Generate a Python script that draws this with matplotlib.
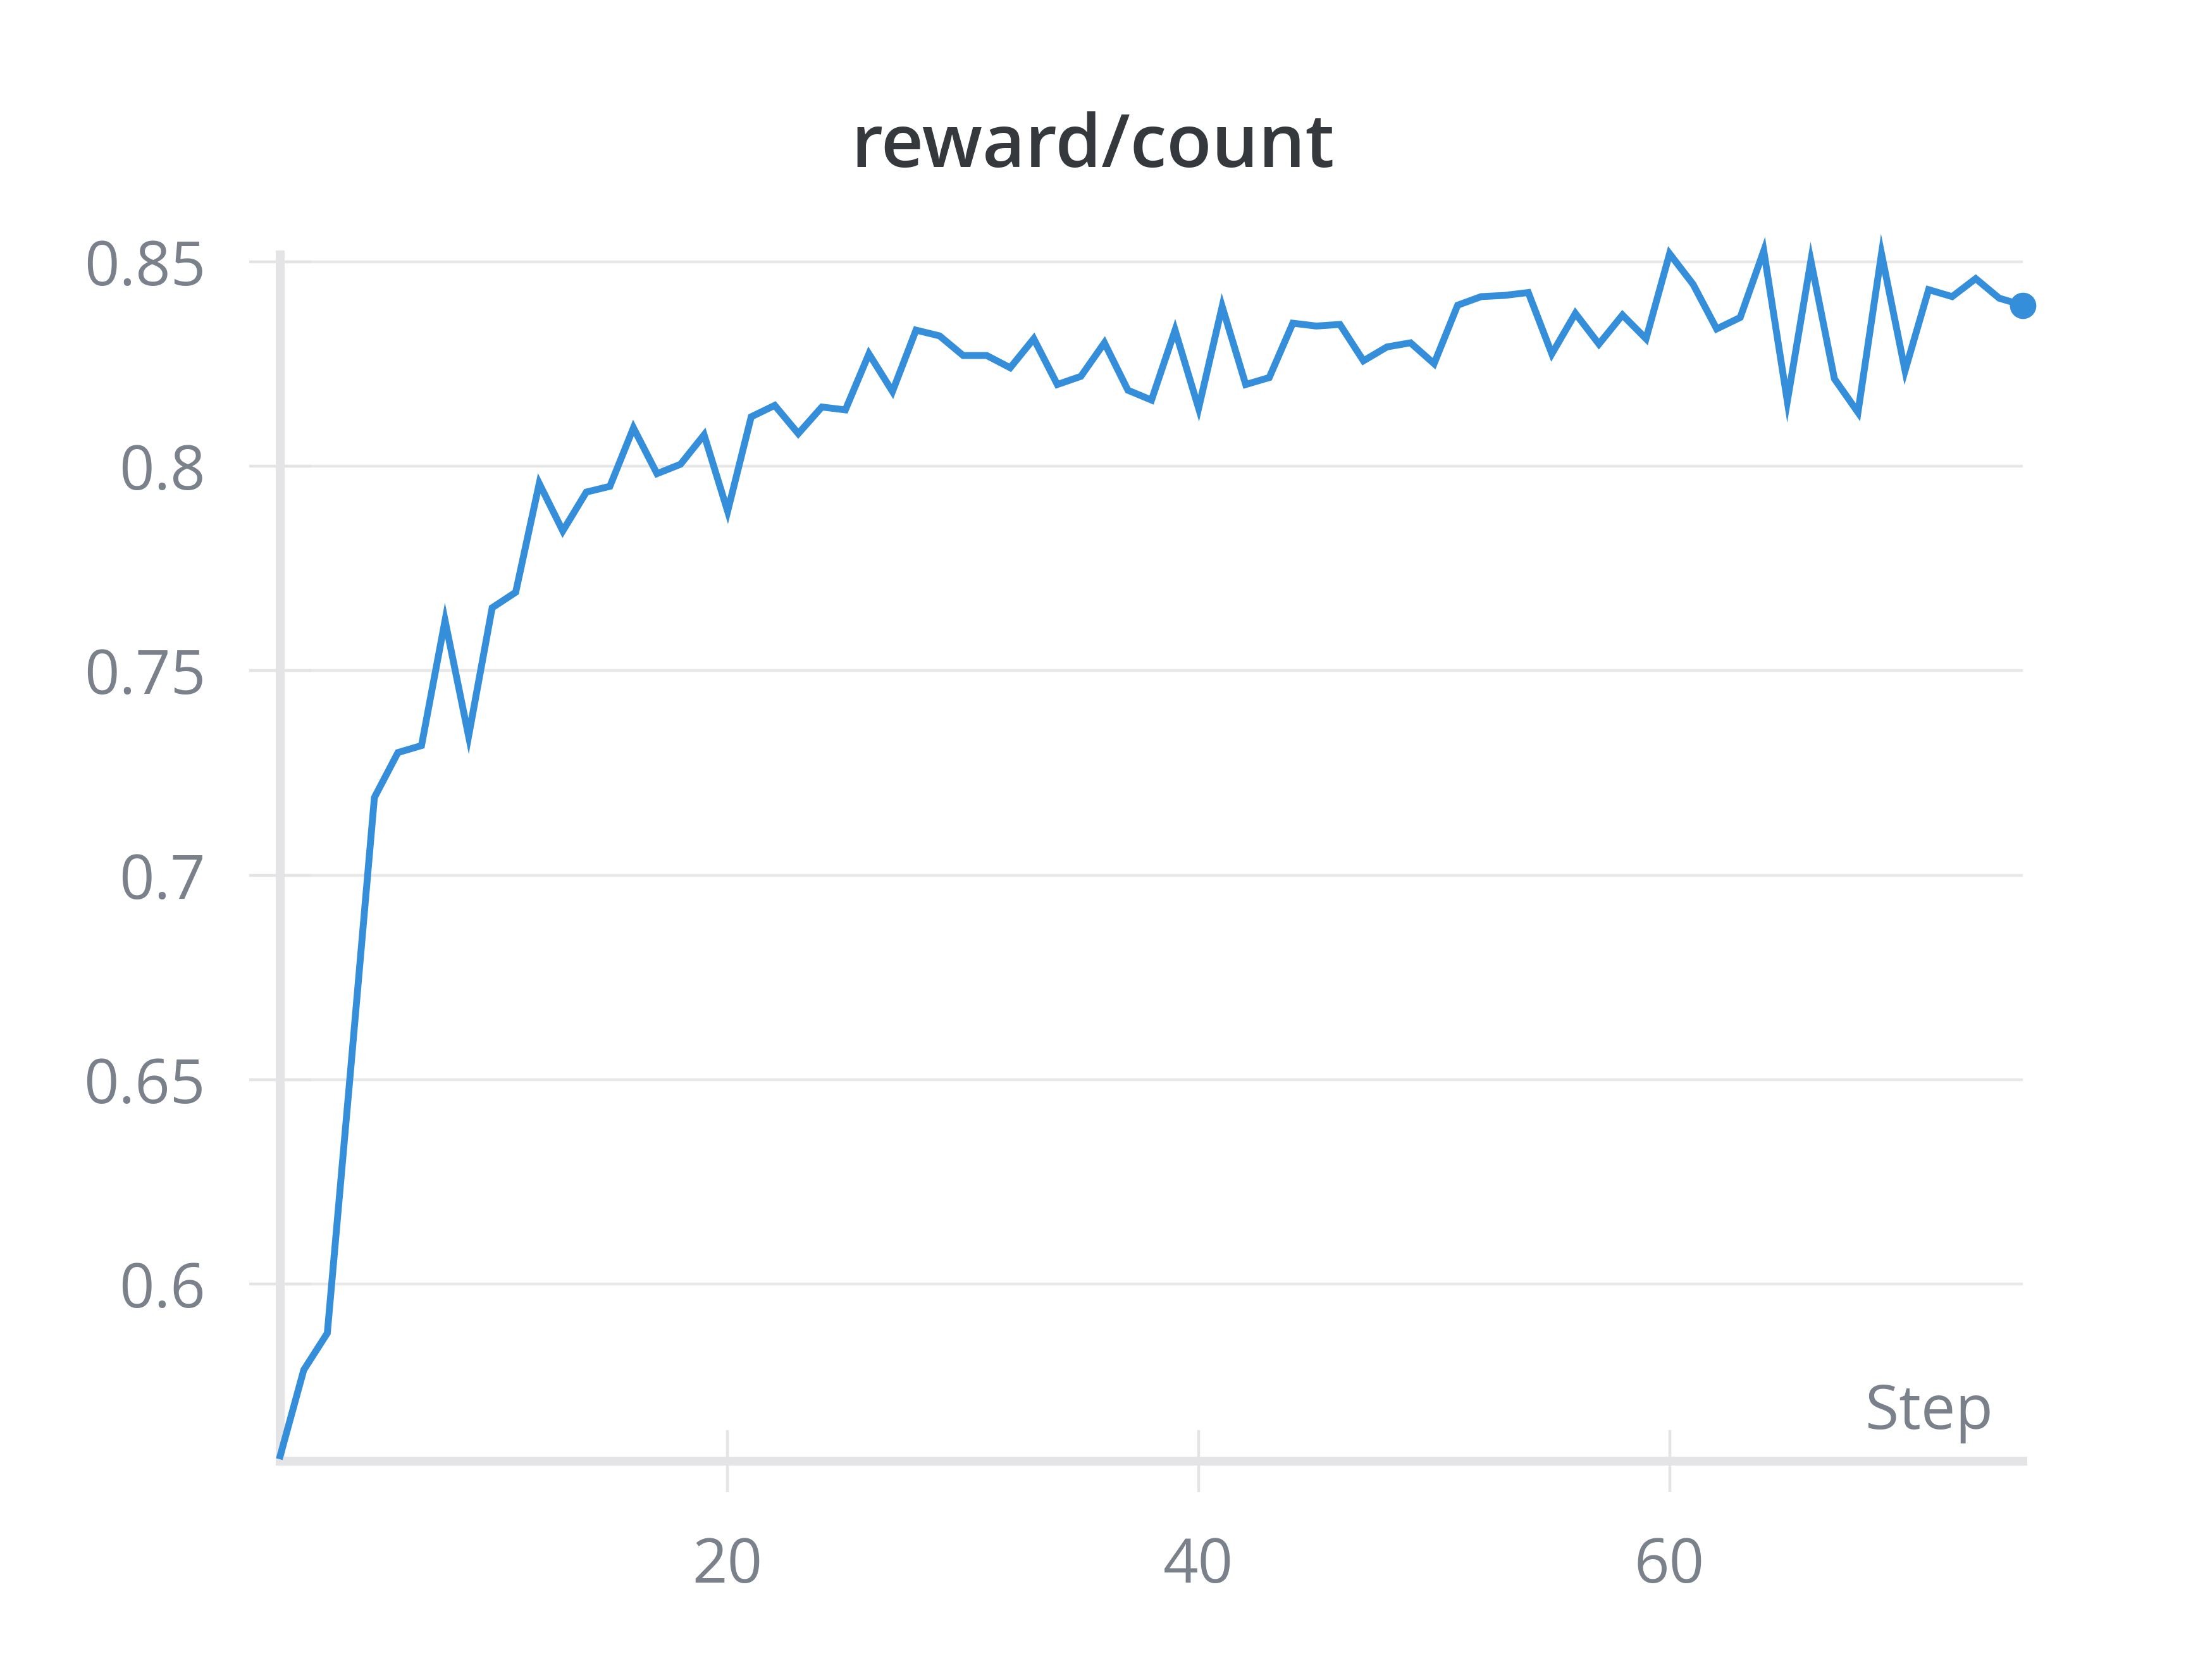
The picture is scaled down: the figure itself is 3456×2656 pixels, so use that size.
import matplotlib
matplotlib.use("Agg")
import matplotlib.pyplot as plt
from matplotlib.ticker import FixedLocator, FuncFormatter

steps = list(range(1, 76))
reward_count = [
    0.558, 0.579, 0.588, 0.653, 0.719, 0.730, 0.7317, 0.7623, 0.734, 0.7654,
    0.7692, 0.7958, 0.7842, 0.7937, 0.7951, 0.8094, 0.7982, 0.8005, 0.8077, 0.789,
    0.8121, 0.8149, 0.808, 0.8145, 0.8138, 0.8275, 0.8183, 0.8333, 0.8319, 0.8271,
    0.8271, 0.8241, 0.8312, 0.820, 0.822, 0.8302, 0.8186, 0.8162, 0.8333, 0.8142,
    0.8391, 0.820, 0.8217, 0.835, 0.8343, 0.8347, 0.8258, 0.8292, 0.8302, 0.8251,
    0.8394, 0.8415, 0.8418, 0.8425, 0.8275, 0.8374, 0.8299, 0.837, 0.8312, 0.852,
    0.8445, 0.8336, 0.8364, 0.8527, 0.8159, 0.8503, 0.8214, 0.8132, 0.852, 0.8234,
    0.8432, 0.8415, 0.8459, 0.8411, 0.8394,
]
y_ticks = [0.6, 0.65, 0.7, 0.75, 0.8, 0.85]
x_ticks = [20, 40, 60]
title = "reward/count"
x_label = "Step"

FONT = ["Open Sans", "DejaVu Sans"]
plt.rcParams["font.family"] = FONT

W, H, DPI = 3456, 2656, 200
fig = plt.figure(figsize=(W / DPI, H / DPI), dpi=DPI, facecolor="white")
left, right = 443 / W, 3198 / W
bottom, top = 1 - 2310 / H, 1 - 403 / H
ax = fig.add_axes([left, bottom, right - left, top - bottom])

line_color = "#358ed9"
ax.plot(steps, reward_count, color=line_color, lw=3.9, clip_on=False,
        solid_joinstyle="miter", zorder=3)
ax.plot(steps[-1:], reward_count[-1:], "o", color=line_color, ms=14,
        clip_on=False, zorder=4)

ax.set_xlim(1, 75)
ax.set_ylim(0.5567, 0.8517)

ax.yaxis.set_major_locator(FixedLocator(y_ticks))
ax.xaxis.set_major_locator(FixedLocator(x_ticks))
ax.yaxis.set_major_formatter(FuncFormatter(lambda v, p: f"{v:g}"))
ax.xaxis.set_major_formatter(FuncFormatter(lambda v, p: f"{v:g}"))

ax.grid(axis="y", color="#e8e8e8", lw=1.6, zorder=0)
ax.grid(axis="x", visible=False)

for s in ["top", "right"]:
    ax.spines[s].set_visible(False)
for s in ["left", "bottom"]:
    ax.spines[s].set_color("#e4e4e7")
    ax.spines[s].set_linewidth(5)
    ax.spines[s].set_zorder(2)

label_color = "#7a818b"
ax.tick_params(axis="both", direction="inout", length=35, width=1.6,
               color="#e4e4e7", pad=25, labelsize=35, labelcolor=label_color)

ax.text(0.983, 0.027, x_label, transform=ax.transAxes, ha="right",
        va="baseline", fontsize=35, color=label_color)

fig.text(0.5, 1 - 264 / H, title, ha="center", va="baseline",
         fontsize=42, fontweight="semibold", color="#35383c")

fig.savefig("out.png", dpi=DPI, facecolor="white")
